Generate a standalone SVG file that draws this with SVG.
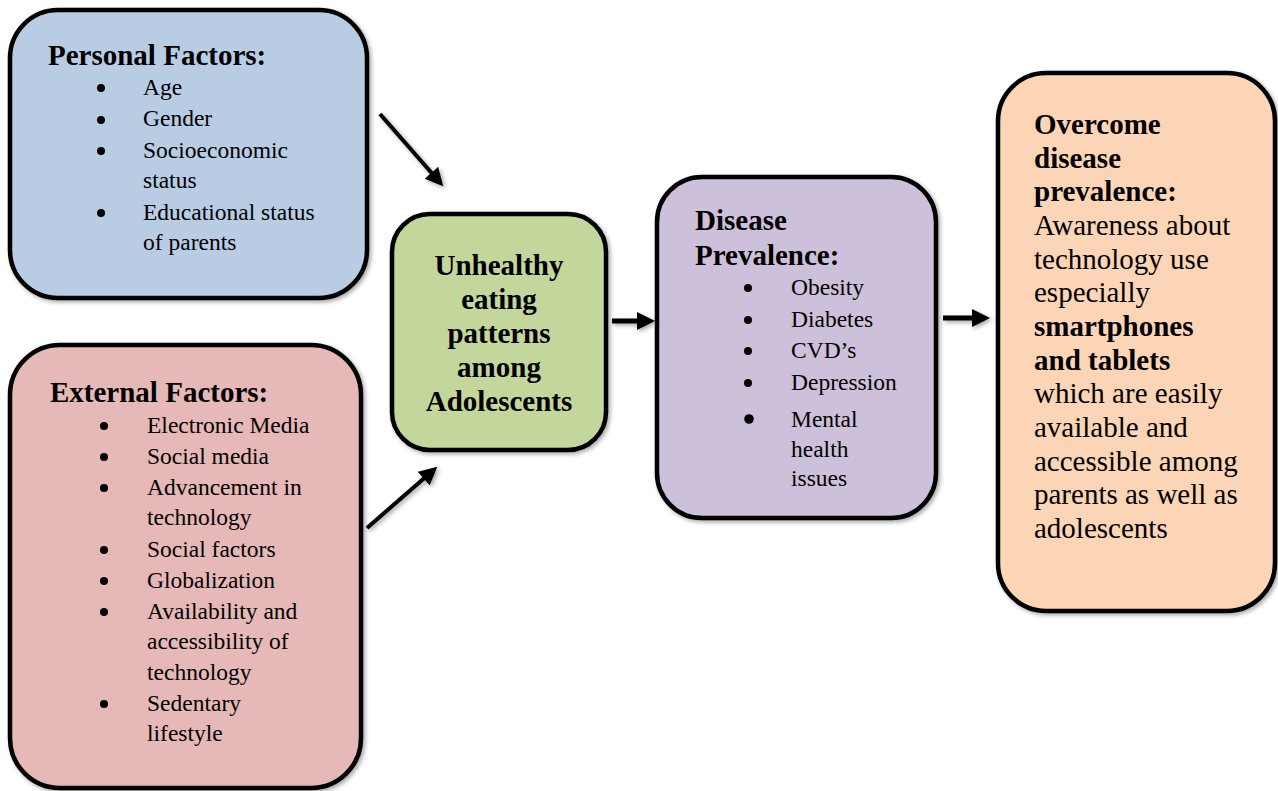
<svg xmlns="http://www.w3.org/2000/svg" width="1278" height="791" viewBox="0 0 1278 791">
<style>
.box{stroke:#000;stroke-width:4.5}
.t{font-family:"Liberation Serif","Times New Roman",serif;fill:#000}
.h{font-size:29px;font-weight:bold}
.i{font-size:23.5px}
.b{font-size:29px}
.bb{font-size:29px;font-weight:bold}
.arr{stroke:#000;fill:none}
</style>
<defs>
<filter id="sh" x="-10%" y="-10%" width="130%" height="130%">
<feDropShadow dx="2" dy="2" stdDeviation="2" flood-color="#000" flood-opacity="0.35"/>
</filter>
<marker id="ah" markerUnits="userSpaceOnUse" markerWidth="20" markerHeight="20" refX="7" refY="9" orient="auto">
<path d="M0,0 L18,9 L0,18 z" fill="#000"/>
</marker>
</defs>
<rect width="1278" height="791" fill="#fff"/>

<g id="personal">
<rect class="box" x="10" y="10" width="357" height="288" rx="48" fill="#b8cce4" filter="url(#sh)"/>
<text class="t h" x="48" y="65">Personal Factors:</text>
<g fill="#000"><circle cx="101" cy="88" r="4"/><circle cx="101" cy="120" r="4"/><circle cx="101" cy="151" r="4"/><circle cx="101" cy="213" r="4"/></g>
<text class="t i" x="143" y="95">Age</text>
<text class="t i" x="143" y="126">Gender</text>
<text class="t i" x="143" y="158">Socioeconomic</text>
<text class="t i" x="143" y="188">status</text>
<text class="t i" x="143" y="220">Educational status</text>
<text class="t i" x="143" y="250">of parents</text>
</g>

<g id="external">
<rect class="box" x="10" y="345" width="351" height="443" rx="50" fill="#e6b8b7" filter="url(#sh)"/>
<text class="t h" x="50" y="402">External Factors:</text>
<g fill="#000"><circle cx="104" cy="426" r="4"/><circle cx="104" cy="457" r="4"/><circle cx="104" cy="488" r="4"/><circle cx="104" cy="550" r="4"/><circle cx="104" cy="581" r="4"/><circle cx="104" cy="612" r="4"/><circle cx="104" cy="704" r="4"/></g>
<text class="t i" x="147" y="433">Electronic Media</text>
<text class="t i" x="147" y="464">Social media</text>
<text class="t i" x="147" y="495">Advancement in</text>
<text class="t i" x="147" y="525">technology</text>
<text class="t i" x="147" y="557">Social factors</text>
<text class="t i" x="147" y="588">Globalization</text>
<text class="t i" x="147" y="619">Availability and</text>
<text class="t i" x="147" y="649">accessibility of</text>
<text class="t i" x="147" y="680">technology</text>
<text class="t i" x="147" y="711">Sedentary</text>
<text class="t i" x="147" y="741">lifestyle</text>
</g>

<g id="unhealthy">
<rect class="box" x="392" y="214" width="214" height="236" rx="38" fill="#c3d69b" filter="url(#sh)"/>
<g class="t h" text-anchor="middle">
<text x="499" y="275">Unhealthy</text>
<text x="499" y="309">eating</text>
<text x="499" y="343">patterns</text>
<text x="499" y="377">among</text>
<text x="499" y="411">Adolescents</text>
</g>
</g>

<g id="disease">
<rect class="box" x="657" y="177" width="279" height="341" rx="45" fill="#ccc0da" filter="url(#sh)"/>
<text class="t h" x="695" y="230">Disease</text>
<text class="t h" x="695" y="265">Prevalence:</text>
<g fill="#000"><circle cx="748" cy="288" r="4"/><circle cx="748" cy="320" r="4"/><circle cx="748" cy="351" r="4"/><circle cx="748" cy="383" r="4"/><circle cx="749" cy="419" r="4.8"/></g>
<text class="t i" x="791" y="295">Obesity</text>
<text class="t i" x="791" y="327">Diabetes</text>
<text class="t i" x="791" y="358">CVD’s</text>
<text class="t i" x="791" y="390">Depression</text>
<text class="t i" x="791" y="427">Mental</text>
<text class="t i" x="791" y="457">health</text>
<text class="t i" x="791" y="486">issues</text>
</g>

<g id="overcome">
<rect class="box" x="998" y="73" width="277" height="538" rx="48" fill="#fbd5b5" filter="url(#sh)"/>
<text class="t bb" x="1034" y="134">Overcome</text>
<text class="t bb" x="1034" y="168">disease</text>
<text class="t bb" x="1034" y="201">prevalence:</text>
<text class="t b" x="1034" y="235">Awareness about</text>
<text class="t b" x="1034" y="269">technology use</text>
<text class="t b" x="1034" y="302">especially</text>
<text class="t bb" x="1034" y="336">smartphones</text>
<text class="t bb" x="1034" y="370">and tablets</text>
<text class="t b" x="1034" y="403">which are easily</text>
<text class="t b" x="1034" y="437">available and</text>
<text class="t b" x="1034" y="471">accessible among</text>
<text class="t b" x="1034" y="504">parents as well as</text>
<text class="t b" x="1034" y="538">adolescents</text>
</g>

<g id="connectors" filter="url(#sh)">
<line class="arr" x1="380" y1="114" x2="436" y2="178" stroke-width="4" marker-end="url(#ah)"/>
<line class="arr" x1="367" y1="528" x2="429" y2="474" stroke-width="4" marker-end="url(#ah)"/>
<line class="arr" x1="612" y1="321" x2="644" y2="321" stroke-width="5" marker-end="url(#ah)"/>
<line class="arr" x1="943" y1="318" x2="979" y2="318" stroke-width="5" marker-end="url(#ah)"/>
</g>
</svg>
